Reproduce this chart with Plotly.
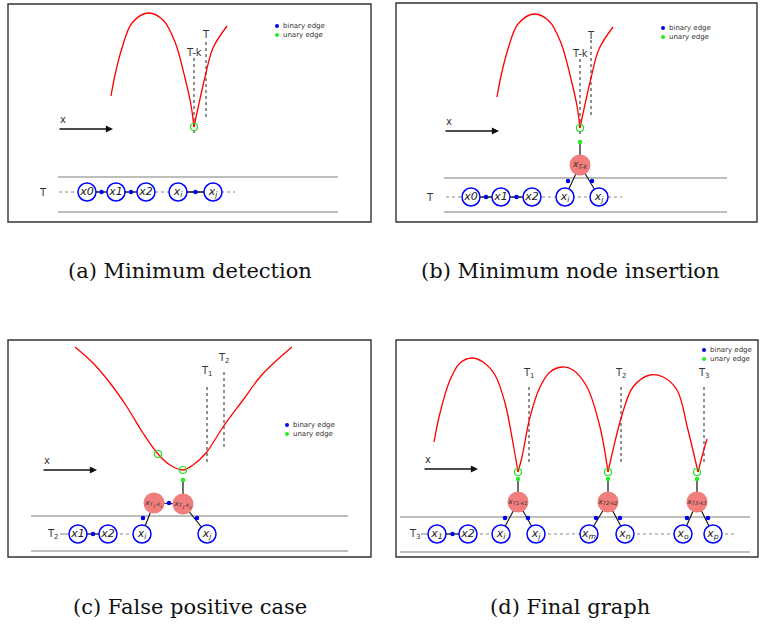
import plotly.graph_objects as go

W, H = 762, 626

# ---------------- data (diagram coordinates) ----------------
PANEL_BOXES = [(8, 4, 371, 222), (396, 3, 757, 222), (8, 340, 371, 557), (396, 340, 758, 557)]
CAPTIONS = ["(a) Minimum detection", "(b) Minimum node insertion",
            "(c) False positive case", "(d) Final graph"]
CAPTION_X = [190, 570, 190, 570]
CAPTION_Y = [271, 271, 607, 607]

# red curves (segments separated by None)
A_CURVE_X = [111, 115, 122, 132, 148, 163, 175, 185, 191, 194, None, 194, 198, 205, 213, 227]
A_CURVE_Y = [96, 75, 48, 23, 13, 20, 42, 78, 105, 127, None, 127, 108, 77, 48, 26]
B_CURVE_X = [497, 501, 508, 518, 534, 549, 561, 571, 577, 580, None, 580, 584, 591, 599, 613]
B_CURVE_Y = [97, 76, 49, 24, 14, 21, 43, 79, 106, 128, None, 128, 109, 78, 49, 27]
C_CURVE_X = [75, 93, 110, 127, 143, 158, 170, 183, 193, 206, 223, 243, 260, 277, 292]
C_CURVE_Y = [347, 363, 383, 407, 433, 454, 465, 470, 465, 453, 427, 400, 377, 360, 347]
D_CURVE_X = [434, 440, 450, 460, 472, 483, 495, 505, 513, 518, None,
             518, 522, 530, 540, 550, 562, 573, 587, 600, 608, None,
             608, 613, 622, 633, 650, 663, 677, 688, 698, None,
             698, 703, 707]
D_CURVE_Y = [442, 413, 380, 363, 358, 362, 375, 403, 443, 472, None,
             472, 457, 417, 387, 372, 367, 370, 387, 427, 472, None,
             472, 450, 415, 387, 375, 377, 390, 430, 472, None,
             472, 453, 439]

# vertical dotted time markers: x, y_top, y_bottom, label, label_y
T_LINES = [
    (194, 58, 135, "T-k", 52), (206, 42, 117, "T", 34),
    (580, 59, 137, "T-k", 53), (591, 40, 118, "T", 35),
    (207, 387, 463, "T<sub>1</sub>", 371), (224, 372, 448, "T<sub>2</sub>", 358),
    (529, 387, 463, "T<sub>1</sub>", 373), (621, 387, 463, "T<sub>2</sub>", 373),
    (704, 387, 463, "T<sub>3</sub>", 373),
]

# legends (x, y of the blue dot; green dot 9px below)
LEGEND_POS = [(277, 26), (663, 28), (287, 425), (704, 350)]

# "x" direction arrows: tail x, head x, y
ARROWS = [(58, 113, 129), (444, 499, 131), (42, 97, 470), (423, 478, 469)]

# gray horizontal band lines: x0, x1, y_top, y_bottom
BANDS = [(58, 338, 177, 212), (444, 727, 178, 212), (31, 348, 516, 551), (400, 750, 517, 552)]

# row labels
ROW_LABELS = [("T", 43, 192), ("T", 430, 197), ("T<sub>2</sub>", 53, 534), ("T<sub>3</sub>", 415, 534)]

# observation nodes (blue circles)
NODE_LABELS = [
    ["x0", "x1", "x2", "x<sub>i</sub>", "x<sub>j</sub>"],
    ["x0", "x1", "x2", "x<sub>i</sub>", "x<sub>j</sub>"],
    ["x1", "x2", "x<sub>i</sub>", "x<sub>j</sub>"],
    ["x<sub>1</sub>", "x2", "x<sub>i</sub>", "x<sub>j</sub>", "x<sub>m</sub>", "x<sub>n</sub>",
     "x<sub>o</sub>", "x<sub>p</sub>"],
]
NODE_X = [
    [87, 116, 146, 178, 213],
    [471, 501, 532, 565, 599],
    [78, 108, 142, 207],
    [437, 468, 501, 536, 589, 625, 683, 713],
]
ROW_Y = [192, 197, 534, 534]
# binary links between observation nodes (index pairs)
ROW_LINKS = [[(0, 1), (1, 2), (3, 4)], [(0, 1), (1, 2)], [(0, 1)], [(0, 1)]]
# dotted row connectors (x0, x1)
ROW_DOTTED = [
    [(59, 235)],
    [(446, 622)],
    [(108, 142)],
    [(468, 501), (536, 589), (625, 683), (713, 737)],
]
# short gray lead line before first node
ROW_LEAD = [None, None, (60, 78), (421, 437)]

# inserted minimum nodes (red): panel, label, x, y, linked observation node indices, edge dot positions
MIN_NODES = [
    (1, "x<sub>T-k</sub>", 580, 165, [3, 4], [(568, 181), (592, 181)]),
    (2, "x<sub>T<sub>1</sub>-k<sub>1</sub></sub>", 154, 503, [2], [(143, 518)]),
    (2, "x<sub>T<sub>2</sub>-k<sub>2</sub></sub>", 183, 504, [3], [(197, 518)]),
    (3, "x<sub>T1-k1</sub>", 518, 502, [2, 3], [(505, 518), (528, 518)]),
    (3, "x<sub>T2-k2</sub>", 608, 502, [4, 5], [(596, 518), (620, 518)]),
    (3, "x<sub>T3-k3</sub>", 697, 502, [6, 7], [(687, 518), (708, 518)]),
]
# binary link between the two red nodes of panel (c)
RED_LINK_DOT = (169, 503)

# detected minima (hollow green) and unary edge dots (green)
MINIMA_X = [194, 580, 158, 183, 518, 608, 697]
MINIMA_Y = [127, 128, 454, 470, 472, 472, 472]
UNARY_X = [580, 183, 518, 608, 697]
UNARY_Y = [142, 480, 479, 479, 479]

# ---------------- drawing ----------------
fig = go.Figure()
SANS = "DejaVu Sans"


def add_line(xs, ys, color, width, dash="solid", shape="linear"):
    fig.add_trace(go.Scatter(x=xs, y=ys, mode="lines",
                             line=dict(color=color, width=width, dash=dash, shape=shape),
                             hoverinfo="skip", showlegend=False, cliponaxis=False,
                             connectgaps=False))


def add_markers(xs, ys, size, color, line_color=None, line_width=0, symbol="circle",
                text=None, font=None):
    fig.add_trace(go.Scatter(x=xs, y=ys, mode="markers+text" if text else "markers",
                             marker=dict(size=size, color=color, symbol=symbol,
                                         line=dict(color=line_color or color, width=line_width)),
                             text=text, textposition="middle center", textfont=font,
                             hoverinfo="skip", showlegend=False, cliponaxis=False))


# panel borders
for (x0, y0, x1, y1) in PANEL_BOXES:
    fig.add_shape(type="rect", x0=x0, y0=y0, x1=x1, y1=y1, xref="x", yref="y",
                  line=dict(color="#333333", width=1.4), layer="below")

# bands
for (x0, x1, yt, yb) in BANDS:
    add_line([x0, x1, None, x0, x1], [yt, yt, None, yb, yb], "#a8a8a8", 1.3)

# rows: dotted connectors, lead lines, solid links
for p in range(4):
    y = ROW_Y[p]
    for (a, b) in ROW_DOTTED[p]:
        add_line([a, b], [y, y], "#8a8a8a", 1, dash="dot")
    if ROW_LEAD[p]:
        a, b = ROW_LEAD[p]
        add_line([a, b], [y, y], "#999999", 1.2)
    for (i, j) in ROW_LINKS[p]:
        add_line([NODE_X[p][i], NODE_X[p][j]], [y, y], "#111111", 1.3)

# edges from red nodes to observation nodes and unary links
for (p, lab, rx, ry, idxs, dots) in MIN_NODES:
    for k in idxs:
        add_line([rx, NODE_X[p][k]], [ry, ROW_Y[p]], "#111111", 1.1)
add_line([MIN_NODES[1][2], MIN_NODES[2][2]], [MIN_NODES[1][3], MIN_NODES[2][3]], "#111111", 1.1)
for ux, uy, node in zip(UNARY_X, UNARY_Y,
                        [MIN_NODES[0], MIN_NODES[2], MIN_NODES[3], MIN_NODES[4], MIN_NODES[5]]):
    add_line([ux, node[2]], [uy, node[3]], "#222222", 1.3)

# vertical dotted time lines and labels
for (x, yt, yb, lab, ly) in T_LINES:
    add_line([x, x], [yt, yb], "#222222", 1, dash="dot")
    fig.add_annotation(x=x, y=ly, text=lab, showarrow=False, xref="x", yref="y",
                       font=dict(family=SANS, size=10, color="#333333"), yanchor="middle")

# red curves
for cx, cy in [(A_CURVE_X, A_CURVE_Y), (B_CURVE_X, B_CURVE_Y),
               (C_CURVE_X, C_CURVE_Y), (D_CURVE_X, D_CURVE_Y)]:
    add_line(cx, cy, "#ff0000", 1.3, shape="spline")

# minima markers
add_markers(MINIMA_X, MINIMA_Y, 7, "rgba(0,0,0,0)", line_color="#22dd22", line_width=1.2)
add_markers(UNARY_X, UNARY_Y, 4.5, "#22ee22")

# red nodes
for (p, lab, rx, ry, idxs, dots) in MIN_NODES:
    fsize = 9 if p == 1 else 7.5
    add_markers([rx], [ry], 21, "rgb(241,125,125)",
                text=["<i>" + lab + "</i>"], font=dict(family=SANS, size=fsize, color="#333333"))

# binary edge dots
bx, by = [RED_LINK_DOT[0]], [RED_LINK_DOT[1]]
for (p, lab, rx, ry, idxs, dots) in MIN_NODES:
    for (dx, dy) in dots:
        bx.append(dx)
        by.append(dy)
for p in range(4):
    for (i, j) in ROW_LINKS[p]:
        bx.append((NODE_X[p][i] + NODE_X[p][j]) / 2)
        by.append(ROW_Y[p])
add_markers(bx, by, 4.5, "#0000ee")

# observation nodes
for p in range(4):
    add_markers(NODE_X[p], [ROW_Y[p]] * len(NODE_X[p]), 18, "white",
                line_color="#0000ff", line_width=1.5,
                text=["<i>" + t + "</i>" for t in NODE_LABELS[p]],
                font=dict(family=SANS, size=11, color="#222222"))

# row labels
for (lab, x, y) in ROW_LABELS:
    fig.add_annotation(x=x, y=y, text=lab, showarrow=False, xref="x", yref="y",
                       font=dict(family=SANS, size=10, color="#333333"))

# legends
for (lx, ly) in LEGEND_POS:
    add_markers([lx, lx], [ly, ly + 9], 4, ["#0000ee", "#22ee22"])
    for k, lab in enumerate(["binary edge", "unary edge"]):
        fig.add_annotation(x=lx + 4, y=ly + 9 * k, text=lab, showarrow=False, xref="x", yref="y",
                           xanchor="left", font=dict(family=SANS, size=7, color="#333333"))

# direction arrows
for (tx, hx, y) in ARROWS:
    fig.add_annotation(x=hx, y=y, ax=tx, ay=y, xref="x", yref="y", axref="x", ayref="y",
                       text="", showarrow=True, arrowhead=2, arrowsize=1.1, arrowwidth=1.3,
                       arrowcolor="#111111", font=dict(size=10))
    fig.add_annotation(x=tx + 5, y=y - 10, text="x", showarrow=False, xref="x", yref="y",
                       font=dict(family=SANS, size=10, color="#333333"))

# captions
for cap, cx, cy in zip(CAPTIONS, CAPTION_X, CAPTION_Y):
    fig.add_annotation(x=cx, y=cy, text=cap, showarrow=False, xref="x", yref="y",
                       font=dict(family="DejaVu Serif", size=21, color="#111111"))

fig.update_xaxes(range=[0, W], visible=False, fixedrange=True)
fig.update_yaxes(range=[H, 0], visible=False, fixedrange=True)
fig.update_layout(width=W, height=H, margin=dict(l=0, r=0, t=0, b=0),
                  paper_bgcolor="white", plot_bgcolor="white", showlegend=False)

fig.write_html("out.html",
               config={"displayModeBar": False, "staticPlot": True},
               post_script="document.body.style.margin='0px';"
                           "document.body.style.overflow='hidden';"
                           "document.documentElement.style.overflow='hidden';")
